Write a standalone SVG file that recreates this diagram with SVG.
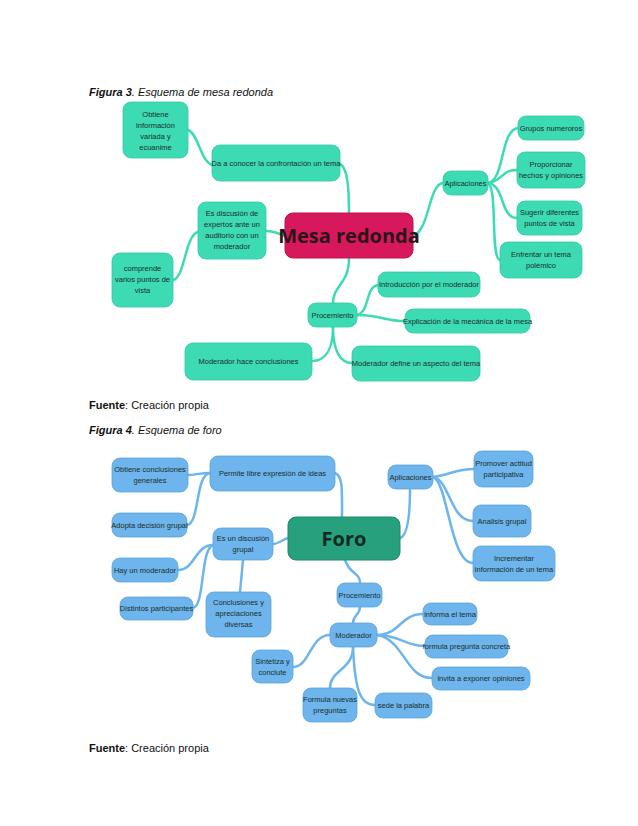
<svg xmlns="http://www.w3.org/2000/svg" width="638" height="826" viewBox="0 0 638 826">
<style>
.cap{font-family:"Liberation Sans",Arial,sans-serif;font-size:11px;fill:#111}
.t{font-family:"Liberation Sans",Arial,sans-serif;font-size:7.5px;fill:#1c2d2a;text-anchor:middle}
.g rect{fill:#3ddbb4;stroke:#33c9a3;stroke-width:0.8}
.b rect{fill:#6db5ec;stroke:#5aa4dc;stroke-width:0.8}
.cg path{fill:none;stroke:#3ddbb4;stroke-width:2.5;stroke-linecap:round}
.cb path{fill:none;stroke:#6db5ec;stroke-width:2.5;stroke-linecap:round}
</style>
<rect width="638" height="826" fill="#fff"/>
<text class="cap" x="89" y="96"><tspan font-weight="bold" font-style="italic">Figura 3</tspan><tspan font-style="italic">. Esquema de mesa redonda</tspan></text>
<text class="cap" x="89" y="409"><tspan font-weight="bold">Fuente</tspan>: Creación propia</text>
<text class="cap" x="89" y="434"><tspan font-weight="bold" font-style="italic">Figura 4</tspan><tspan font-style="italic">. Esquema de foro</tspan></text>
<text class="cap" x="89" y="752"><tspan font-weight="bold">Fuente</tspan>: Creación propia</text>

<g id="conn-mesa" class="cg">
<path d="M338,163 C348,165 349,190 349,213"/>
<path d="M212,165 C200,160 198,133 188,130"/>
<path d="M285,236 C278,233 272,231 266,231"/>
<path d="M198,232 C185,235 185,278 173,280"/>
<path d="M413,236 C430,230 428,185 443,183"/>
<path d="M488,183 C505,180 500,130 518,128"/>
<path d="M488,183 C505,180 500,170 517,170"/>
<path d="M488,183 C505,185 500,218 517,218"/>
<path d="M488,183 C498,190 490,258 500,260"/>
<path d="M349,258 C349,285 333,285 333,303"/>
<path d="M357,315 C370,312 365,287 378,285"/>
<path d="M357,315 C380,315 385,321 405,321"/>
<path d="M333,327 C333,350 325,361 312,361"/>
<path d="M333,327 C333,350 340,363 352,363"/>
</g>

<g id="conn-foro" class="cb">
<path d="M342,517 C342,490 343,476 335,473"/>
<path d="M210,473 C200,473 195,475 188,475"/>
<path d="M210,473 C195,475 200,523 187,525"/>
<path d="M288,538 C282,540 278,544 273,544"/>
<path d="M213,545 C195,545 195,570 178,570"/>
<path d="M213,545 C200,550 205,606 193,608"/>
<path d="M243,560 L240,592"/>
<path d="M400,538 C410,535 410,500 410,489"/>
<path d="M433,477 C450,475 455,469 474,469"/>
<path d="M433,477 C450,480 450,521 473,521"/>
<path d="M433,477 C448,482 450,563 473,563"/>
<path d="M345,560 C350,575 360,572 360,583"/>
<path d="M360,607 C360,615 353,615 353,623"/>
<path d="M377,635 C400,635 400,614 423,614"/>
<path d="M377,635 C400,635 405,646 425,646"/>
<path d="M377,635 C405,640 405,678 432,678"/>
<path d="M353,647 C355,690 360,705 375,705"/>
<path d="M353,647 C353,670 330,670 330,688"/>
<path d="M330,635 C310,635 310,667 293,667"/>
</g>

<g id="n-obtiene" class="g"><rect x="123" y="102" width="65" height="56" rx="8"/><text class="t" x="155.5" y="117">Obtiene<tspan x="155.5" dy="11">información</tspan><tspan x="155.5" dy="11">variada y</tspan><tspan x="155.5" dy="11">ecuanime</tspan></text></g>
<g id="n-da" class="g"><rect x="212" y="145" width="128" height="36" rx="8"/><text class="t" x="276" y="166">Da a conocer la confrontación un tema</text></g>
<g id="n-mesa"><rect x="285" y="213" width="128" height="45" rx="8" fill="#d8185c" stroke="#c01050"/><text x="349" y="243" text-anchor="middle" font-family="'Open Sans','Liberation Sans',sans-serif" font-weight="bold" font-size="20" fill="#2a1418">Mesa redonda</text></g>
<g id="n-es" class="g"><rect x="198" y="202" width="68" height="57" rx="8"/><text class="t" x="232" y="216">Es discusión de<tspan x="232" dy="11">expertos ante un</tspan><tspan x="232" dy="11">auditorio con un</tspan><tspan x="232" dy="11">moderador</tspan></text></g>
<g id="n-comprende" class="g"><rect x="112" y="253" width="61" height="54" rx="8"/><text class="t" x="142.5" y="271">comprende<tspan x="142.5" dy="11">varios puntos de</tspan><tspan x="142.5" dy="11">vista</tspan></text></g>
<g id="n-aplic" class="g"><rect x="443" y="171" width="45" height="24" rx="8"/><text class="t" x="465.5" y="186">Aplicaciones</text></g>
<g id="n-grupos" class="g"><rect x="518" y="116" width="66" height="24" rx="8"/><text class="t" x="551" y="131">Grupos numeroros</text></g>
<g id="n-prop" class="g"><rect x="517" y="152" width="68" height="36" rx="8"/><text class="t" x="551" y="167">Proporcionar<tspan x="551" dy="11">hechos y opiniones</tspan></text></g>
<g id="n-sug" class="g"><rect x="517" y="201" width="65" height="34" rx="8"/><text class="t" x="549.5" y="215">Sugerir diferentes<tspan x="549.5" dy="11">puntos de vista</tspan></text></g>
<g id="n-enf" class="g"><rect x="500" y="242" width="82" height="36" rx="8"/><text class="t" x="541" y="257">Enfrentar un tema<tspan x="541" dy="11">polémico</tspan></text></g>
<g id="n-proc1" class="g"><rect x="308" y="303" width="49" height="24" rx="8"/><text class="t" x="332.5" y="318">Procemiento</text></g>
<g id="n-intro" class="g"><rect x="378" y="272" width="102" height="25" rx="8"/><text class="t" x="429" y="287">Introducción por el moderador</text></g>
<g id="n-expl" class="g"><rect x="405" y="309" width="125" height="24" rx="8"/><text class="t" x="467.5" y="324">Explicación de la mecánica de la mesa</text></g>
<g id="n-modhace" class="g"><rect x="185" y="343" width="127" height="37" rx="8"/><text class="t" x="248.5" y="364">Moderador hace conclusiones</text></g>
<g id="n-moddef" class="g"><rect x="352" y="346" width="128" height="35" rx="8"/><text class="t" x="416" y="366">Moderador define un aspecto del tema</text></g>

<g id="f-permite" class="b"><rect x="210" y="456" width="125" height="35" rx="8"/><text class="t" x="272.5" y="476">Permite libre expresión de ideas</text></g>
<g id="f-obtiene" class="b"><rect x="112" y="458" width="76" height="34" rx="8"/><text class="t" x="150" y="472">Obtiene conclusiones<tspan x="150" dy="11">generales</tspan></text></g>
<g id="f-adopta" class="b"><rect x="112" y="513" width="75" height="24" rx="8"/><text class="t" x="149.5" y="528">Adopta decisión grupal</text></g>
<g id="f-foro"><rect x="288" y="517" width="112" height="43" rx="8" fill="#27a07e" stroke="#1d8a6b"/><text x="344" y="546" text-anchor="middle" font-family="'Open Sans','Liberation Sans',sans-serif" font-weight="bold" font-size="20" fill="#102a22">Foro</text></g>
<g id="f-esun" class="b"><rect x="213" y="528" width="60" height="32" rx="8"/><text class="t" x="243" y="541">Es un discusión<tspan x="243" dy="11">grupal</tspan></text></g>
<g id="f-hay" class="b"><rect x="112" y="558" width="66" height="24" rx="8"/><text class="t" x="145" y="573">Hay un moderador</text></g>
<g id="f-dist" class="b"><rect x="120" y="597" width="73" height="23" rx="8"/><text class="t" x="156.5" y="611">Distintos participantes</text></g>
<g id="f-concl" class="b"><rect x="206" y="592" width="65" height="45" rx="8"/><text class="t" x="238.5" y="605">Conclusiones y<tspan x="238.5" dy="11">apreciaciones</tspan><tspan x="238.5" dy="11">diversas</tspan></text></g>
<g id="f-aplic" class="b"><rect x="388" y="465" width="45" height="24" rx="8"/><text class="t" x="410.5" y="480">Aplicaciones</text></g>
<g id="f-prom" class="b"><rect x="474" y="451" width="59" height="36" rx="8"/><text class="t" x="503.5" y="466">Promover actitud<tspan x="503.5" dy="11">participativa</tspan></text></g>
<g id="f-anal" class="b"><rect x="473" y="505" width="58" height="32" rx="8"/><text class="t" x="502" y="524">Analisis grupal</text></g>
<g id="f-incr" class="b"><rect x="473" y="546" width="82" height="35" rx="8"/><text class="t" x="514" y="561">Incrementar<tspan x="514" dy="11">información de un tema</tspan></text></g>
<g id="f-proc" class="b"><rect x="337" y="583" width="45" height="24" rx="8"/><text class="t" x="359.5" y="598">Procemiento</text></g>
<g id="f-mod" class="b"><rect x="330" y="623" width="47" height="24" rx="8"/><text class="t" x="353.5" y="638">Moderador</text></g>
<g id="f-inf" class="b"><rect x="423" y="603" width="54" height="22" rx="8"/><text class="t" x="450" y="617">informa el tema</text></g>
<g id="f-form" class="b"><rect x="425" y="635" width="83" height="23" rx="8"/><text class="t" x="466.5" y="649">formula pregunta concreta</text></g>
<g id="f-inv" class="b"><rect x="432" y="667" width="98" height="23" rx="8"/><text class="t" x="481" y="681">invita a exponer opiniones</text></g>
<g id="f-sede" class="b"><rect x="375" y="693" width="57" height="25" rx="8"/><text class="t" x="403.5" y="708">sede la palabra</text></g>
<g id="f-fnuev" class="b"><rect x="303" y="688" width="54" height="34" rx="8"/><text class="t" x="330" y="702">Formula nuevas<tspan x="330" dy="11">preguntas</tspan></text></g>
<g id="f-sint" class="b"><rect x="252" y="650" width="41" height="33" rx="8"/><text class="t" x="272.5" y="664">Sintetiza y<tspan x="272.5" dy="11">conclute</tspan></text></g>
</svg>
